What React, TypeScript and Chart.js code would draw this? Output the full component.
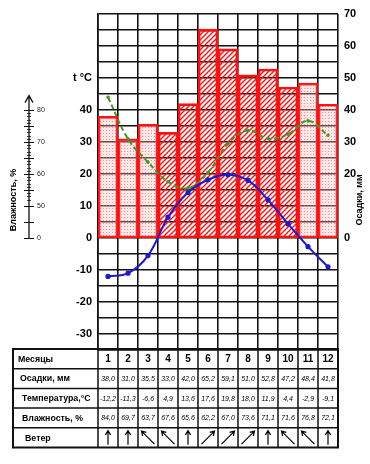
import React, { useEffect, useRef } from 'react';
import { Chart, registerables } from 'chart.js';

Chart.register(...registerables);

// ---------- data ----------
const months = ['1', '2', '3', '4', '5', '6', '7', '8', '9', '10', '11', '12'];
const precipitation = [38.0, 31.0, 35.5, 33.0, 42.0, 65.2, 59.1, 51.0, 52.8, 47.2, 48.4, 41.8];
// curves
const temperatureCurve = [-12.0, -11.0, -5.5, 6.5, 14.2, 18.2, 19.8, 18.0, 11.9, 4.4, -2.7, -9.0];
const humidityCurve = [84.0, 71.0, 63.7, 57.6, 55.6, 60.5, 69.5, 73.6, 71.1, 72.4, 76.6, 72.1];
// table texts
const tablePrecip = ['38,0', '31,0', '35,5', '33,0', '42,0', '65,2', '59,1', '51,0', '52,8', '47,2', '48,4', '41,8'];
const tableTemp = ['-12,2', '-11,3', '-6,6', '4,9', '13,6', '17,6', '19,8', '18,0', '11,9', '4,4', '-2,9', '-9,1'];
const tableHumidity = ['84,0', '69,7', '63,7', '67,6', '65,6', '62,2', '67,0', '73,6', '71,1', '71,6', '76,8', '72,1'];
const wind = ['N', 'N', 'NW', 'NW', 'N', 'NE', 'NE', 'NE', 'N', 'NW', 'NW', 'N'];
const rowLabels = ['Месяцы', 'Осадки, мм', 'Температура,°C', 'Влажность, %', 'Ветер'];
const precipKind = ['snow', 'snow', 'snow', 'rain', 'rain', 'rain', 'rain', 'rain', 'rain', 'rain', 'snow', 'snow'];
const tempTickLabels = [40, 30, 20, 10, 0, -10, -20, -30];
const tempAxisTitleValue = 50;
const precipTickLabels = [70, 60, 50, 40, 30, 20, 0];
const humidityTickLabels = [80, 70, 60, 50, 0];
const humidityOffset = 40; // humidity h is drawn at temperature (h - 40)

const FONT = "'Liberation Sans', Arial, sans-serif";
const BLUE = '#1a1ad0';
const GREEN = '#3d9a22';
const RED = '#ff1010';

function hatchPattern(): CanvasPattern | string {
  const c = document.createElement('canvas');
  c.width = 5;
  c.height = 5;
  const g = c.getContext('2d');
  if (!g) return RED;
  g.strokeStyle = RED;
  g.lineWidth = 1.4;
  g.beginPath();
  g.moveTo(-1, 6);
  g.lineTo(6, -1);
  g.moveTo(-1, 1);
  g.lineTo(1, -1);
  g.moveTo(4, 6);
  g.lineTo(6, 4);
  g.stroke();
  return g.createPattern(c, 'repeat') || RED;
}

function dotPattern(): CanvasPattern | string {
  const c = document.createElement('canvas');
  c.width = 3;
  c.height = 3;
  const g = c.getContext('2d');
  if (!g) return '#fdd';
  g.fillStyle = 'rgba(255,190,190,0.35)';
  g.fillRect(0, 0, 3, 3);
  g.fillStyle = 'rgba(255,80,80,0.6)';
  g.fillRect(1, 1, 1, 1);
  return g.createPattern(c, 'repeat') || '#fdd';
}

const extrasPlugin = {
  id: 'extras',
  afterDraw(chart: any) {
    const ctx: CanvasRenderingContext2D = chart.ctx;
    const area = chart.chartArea;
    const x = chart.scales.x;
    const y = chart.scales.y;
    ctx.save();

    // ----- humidity axis -----
    const ax = 29;
    const y0 = y.getPixelForValue(0);
    const yTop = y.getPixelForValue(44.5);
    ctx.strokeStyle = '#111';
    ctx.lineWidth = 1.3;
    ctx.beginPath();
    ctx.moveTo(ax, y0);
    ctx.lineTo(ax, yTop);
    ctx.moveTo(ax - 4, yTop + 7);
    ctx.lineTo(ax, yTop);
    ctx.lineTo(ax + 4, yTop + 7);
    ctx.stroke();
    ctx.lineWidth = 1.2;
    ctx.beginPath();
    for (let v = 0; v <= 40; v += 5) {
      const py = Math.round(y.getPixelForValue(v)) + 0.5;
      ctx.moveTo(ax - 5, py);
      ctx.lineTo(ax + 5, py);
    }
    ctx.stroke();
    ctx.lineWidth = 0.8;
    ctx.beginPath();
    for (let v = 12; v < 40; v += 1) {
      if (v % 5 === 0) continue;
      const py = Math.round(y.getPixelForValue(v)) + 0.5;
      ctx.moveTo(ax - 2, py);
      ctx.lineTo(ax + 2, py);
    }
    ctx.stroke();
    ctx.fillStyle = '#222';
    ctx.font = `7px ${FONT}`;
    ctx.textAlign = 'left';
    ctx.textBaseline = 'middle';
    humidityTickLabels.forEach((h) => {
      const v = h === 0 ? 0 : h - humidityOffset;
      ctx.fillText(String(h), ax + 8, y.getPixelForValue(v));
    });
    ctx.fillStyle = '#000';
    ctx.font = `bold 9px ${FONT}`;
    ctx.textAlign = 'center';
    ctx.save();
    ctx.translate(14, 200);
    ctx.rotate(-Math.PI / 2);
    ctx.fillText('Влажность, %', 0, 0);
    ctx.restore();

    // ----- right title -----
    ctx.save();
    ctx.translate(360, 200);
    ctx.rotate(-Math.PI / 2);
    ctx.fillText('Осадки, мм', 0, 0);
    ctx.restore();

    // ----- table -----
    const top = area.bottom - 1;
    const rowH = 19.7;
    const left = 13;
    const right = area.right;
    const colW = x.getPixelForValue(1) - x.getPixelForValue(0);
    const bottom = top + rowH * 5;
    ctx.strokeStyle = '#111';
    ctx.lineWidth = 1.5;
    ctx.beginPath();
    for (let r = 1; r < 5; r++) {
      const py = top + r * rowH;
      ctx.moveTo(left, py);
      ctx.lineTo(right, py);
    }
    for (let i = 0; i <= 12; i++) {
      const px = x.getPixelForValue(i) - colW / 2;
      ctx.moveTo(px, top);
      ctx.lineTo(px, bottom);
    }
    ctx.stroke();
    ctx.lineWidth = 2;
    ctx.strokeRect(left, top, right - left, bottom - top);

    // row labels
    const labelX = [18, 20, 22, 22, 25];
    ctx.fillStyle = '#000';
    ctx.textAlign = 'left';
    ctx.textBaseline = 'middle';
    ctx.font = `bold 8.8px ${FONT}`;
    rowLabels.forEach((t, r) => {
      ctx.fillText(t, labelX[r], top + rowH * (r + 0.5) + 0.5);
    });

    // month numbers and values
    ctx.textAlign = 'center';
    months.forEach((m, i) => {
      const cx = x.getPixelForValue(i);
      ctx.font = `bold 10px ${FONT}`;
      ctx.fillText(m, cx, top + rowH * 0.5 + 0.5);
      ctx.font = `italic 7px ${FONT}`;
      ctx.fillText(tablePrecip[i], cx, top + rowH * 1.5 + 0.5);
      ctx.fillText(tableTemp[i], cx, top + rowH * 2.5 + 0.5);
      ctx.fillText(tableHumidity[i], cx, top + rowH * 3.5 + 0.5);
    });

    // wind arrows
    ctx.strokeStyle = '#000';
    ctx.lineWidth = 1.2;
    wind.forEach((d, i) => {
      const cx = x.getPixelForValue(i);
      const cy = top + rowH * 4.5;
      let dx = 0;
      let dy = -7;
      if (d === 'NW') { dx = -6.5; dy = -6.5; }
      if (d === 'NE') { dx = 6.5; dy = -6.5; }
      const x1 = cx - dx, y1 = cy - dy, x2 = cx + dx, y2 = cy + dy;
      const ang = Math.atan2(y2 - y1, x2 - x1);
      const hl = 5;
      ctx.beginPath();
      ctx.moveTo(x1, y1);
      ctx.lineTo(x2, y2);
      ctx.moveTo(x2 - hl * Math.cos(ang - 0.55), y2 - hl * Math.sin(ang - 0.55));
      ctx.lineTo(x2, y2);
      ctx.lineTo(x2 - hl * Math.cos(ang + 0.55), y2 - hl * Math.sin(ang + 0.55));
      ctx.stroke();
    });

    ctx.restore();
  },
};

export default function App() {
  const ref = useRef<HTMLCanvasElement>(null);

  useEffect(() => {
    const canvas = ref.current;
    if (!canvas) return;
    const hatch = hatchPattern();
    const dots = dotPattern();
    const chart = new Chart(canvas, {
      type: 'bar',
      data: {
        labels: months,
        datasets: [
          {
            type: 'line',
            label: 'Температура',
            data: temperatureCurve,
            yAxisID: 'y',
            borderColor: BLUE,
            backgroundColor: BLUE,
            borderWidth: 2,
            tension: 0.4,
            pointRadius: 1.6,
            pointBackgroundColor: BLUE,
            pointBorderColor: BLUE,
            order: 1,
          } as any,
          {
            type: 'line',
            label: 'Влажность',
            data: humidityCurve.map((h) => h - humidityOffset),
            yAxisID: 'y',
            borderColor: GREEN,
            backgroundColor: GREEN,
            borderWidth: 2,
            borderDash: [5, 3],
            tension: 0.4,
            pointRadius: 0.8,
            pointBackgroundColor: GREEN,
            pointBorderColor: GREEN,
            order: 2,
          } as any,
          {
            type: 'bar',
            label: 'Осадки',
            data: precipitation,
            yAxisID: 'y2',
            backgroundColor: precipKind.map((k) => (k === 'snow' ? dots : hatch)),
            borderColor: RED,
            borderWidth: 2,
            borderSkipped: false,
            barPercentage: 1,
            categoryPercentage: 1,
            order: 3,
          } as any,
        ],
      },
      options: {
        responsive: false,
        maintainAspectRatio: false,
        animation: false,
        events: [],
        layout: { padding: { top: 14, bottom: 114, left: 0, right: 0 } },
        plugins: { legend: { display: false }, tooltip: { enabled: false } },
        scales: {
          x: {
            offset: true,
            grid: { color: '#111', lineWidth: 1.6, drawTicks: false, offset: true },
            border: { color: '#111', width: 1.6 },
            ticks: { display: false },
            afterFit: (s: any) => { s.height = 0; },
          },
          y: {
            position: 'left',
            min: -35,
            max: 70,
            ticks: {
              stepSize: 5,
              autoSkip: false,
              padding: 6,
              color: '#000',
              font: { family: FONT, size: 11, weight: 'bold' },
              callback: (v: any) => {
                const n = Number(v);
                if (n === tempAxisTitleValue) return 't °C';
                return tempTickLabels.includes(n) ? String(n) : '';
              },
            },
            grid: { color: '#111', lineWidth: 1.6, drawTicks: false },
            border: { color: '#111', width: 1.6 },
            afterFit: (s: any) => { s.width = 98; },
          },
          y2: {
            position: 'right',
            min: -35,
            max: 70,
            ticks: {
              stepSize: 5,
              autoSkip: false,
              padding: 6,
              color: '#000',
              font: { family: FONT, size: 11, weight: 'bold' },
              callback: (v: any) => {
                const n = Number(v);
                return precipTickLabels.includes(n) ? String(n) : '';
              },
            },
            grid: { display: false, drawTicks: false },
            border: { display: false },
            afterFit: (s: any) => { s.width = 32; },
          },
        },
      } as any,
      plugins: [extrasPlugin],
    });
    return () => chart.destroy();
  }, []);

  return (
    <div style={{ position: 'absolute', left: 0, top: 0, width: 370, height: 464, background: '#fff' }}>
      <canvas ref={ref} width={370} height={464} style={{ width: 370, height: 464, display: 'block' }} />
    </div>
  );
}
